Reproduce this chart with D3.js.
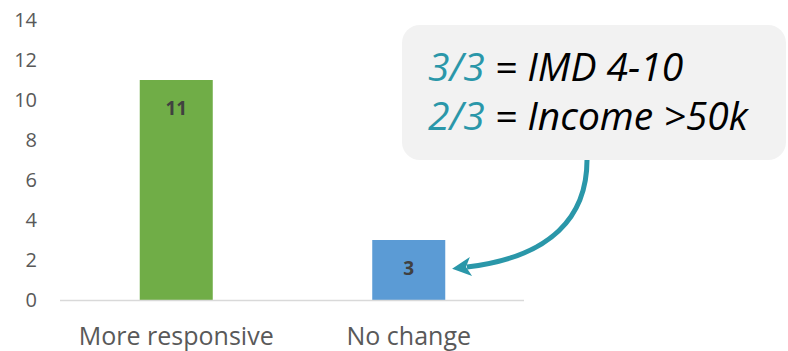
<!DOCTYPE html>
<html><head><meta charset="utf-8">
<script src="https://cdn.jsdelivr.net/npm/d3@7"></script>
<style>body{margin:0;background:#fff}svg{display:block}</style>
</head><body>
<script>
const categories = ["More responsive", "No change"];
const values = [11, 3];
const colors = ["#70ad47", "#5b9bd5"];
const yTicks = [0, 2, 4, 6, 8, 10, 12, 14];
const calloutLines = [["3/3", " = IMD 4-10"], ["2/3", " = Income >50k"]];

const W = 788, H = 351;
const svg = d3.select("body").append("svg").attr("width", W).attr("height", H);
const font = "'Open Sans', sans-serif";
const teal = "#2a97a9";

const x = d3.scaleBand().domain(categories).range([60, 525]).paddingInner(0.686).paddingOuter(0.343);
const y = d3.scaleLinear().domain([0, 14]).range([300, 20]);

// y tick labels
svg.append("g").selectAll("text").data(yTicks).join("text")
  .attr("x", 37).attr("y", d => y(d) + 7)
  .attr("text-anchor", "end").attr("font-family", font).attr("font-size", 20)
  .attr("fill", "#595959").text(d => d);

// bars
svg.append("g").selectAll("rect").data(values).join("rect")
  .attr("x", (d, i) => x(categories[i])).attr("width", x.bandwidth())
  .attr("y", d => y(d)).attr("height", d => y(0) - y(d))
  .attr("fill", (d, i) => colors[i]);

// baseline
svg.append("line").attr("x1", 60).attr("x2", 524).attr("y1", y(0) + 0.5).attr("y2", y(0) + 0.5)
  .attr("stroke", "#d9d9d9").attr("stroke-width", 1.5);

// data labels
svg.append("g").selectAll("text").data(values).join("text")
  .attr("x", (d, i) => x(categories[i]) + x.bandwidth() / 2)
  .attr("y", d => y(d) + 35)
  .attr("text-anchor", "middle").attr("font-family", font).attr("font-weight", "bold")
  .attr("font-size", 19).attr("fill", "#404040").text(d => d);

// category labels
svg.append("g").selectAll("text").data(categories).join("text")
  .attr("x", d => x(d) + x.bandwidth() / 2).attr("y", 345)
  .attr("text-anchor", "middle").attr("font-family", font).attr("font-size", 25)
  .attr("fill", "#595959").text(d => d);

// callout box
svg.append("rect").attr("x", 402).attr("y", 25).attr("width", 384).attr("height", 135)
  .attr("rx", 18).attr("fill", "#f2f2f2");

const tl = svg.append("g").selectAll("text").data(calloutLines).join("text")
  .attr("x", 428).attr("y", (d, i) => 81 + i * 49)
  .attr("font-family", font).attr("font-style", "italic")
  .attr("font-size", 39).attr("fill", "#000");
tl.append("tspan").attr("fill", teal).text(d => d[0]);
tl.append("tspan").text(d => d[1]);

// curved arrow
const p0 = [587, 160], c1 = [587, 216], c2 = [552, 257], p1 = [467, 267];
svg.append("path").attr("d", `M${p0} C${c1} ${c2} ${p1}`)
  .attr("fill", "none").attr("stroke", teal).attr("stroke-width", 5);
const dx = p1[0] - c2[0], dy = p1[1] - c2[1], L = Math.hypot(dx, dy);
const u = [dx / L, dy / L], n = [-u[1], u[0]];
const tip = [p1[0] + 15 * u[0], p1[1] + 15 * u[1]];
const pt = (a, b) => [tip[0] - a * u[0] + b * n[0], tip[1] - a * u[1] + b * n[1]];
svg.append("path")
  .attr("d", "M" + [tip, pt(19, 9.5), pt(14, 0), pt(19, -9.5)].join("L") + "Z")
  .attr("fill", teal);
</script>
</body></html>
